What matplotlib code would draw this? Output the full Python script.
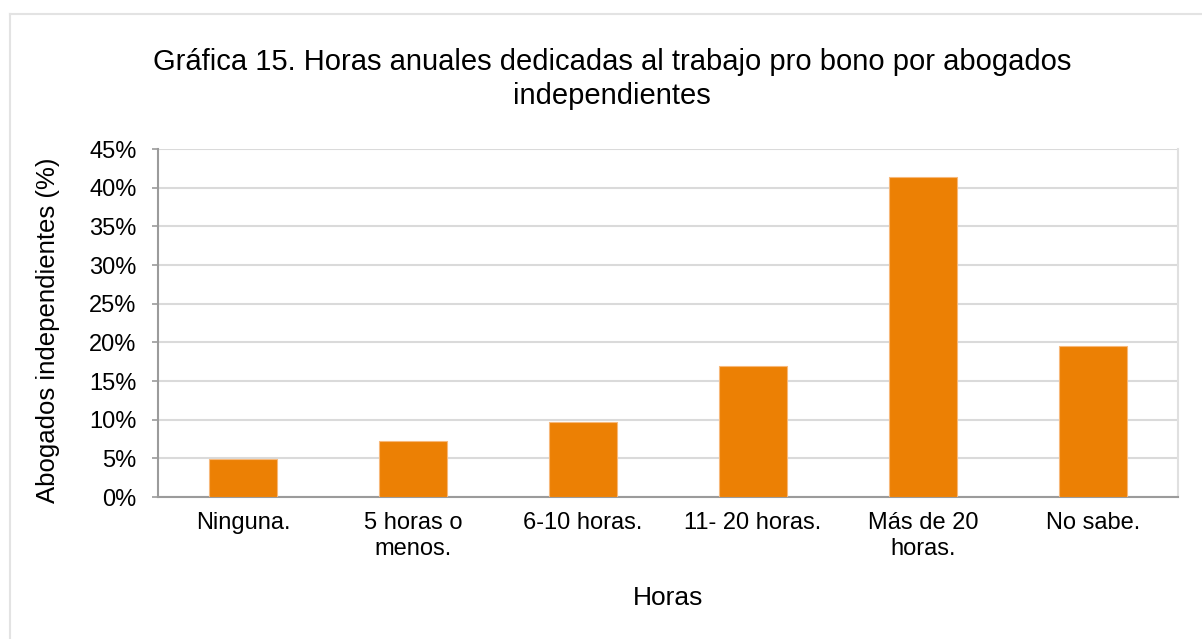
import matplotlib
matplotlib.use('Agg')
import matplotlib.pyplot as plt
from matplotlib.lines import Line2D
import numpy as np

plt.rcParams['font.family'] = ['Liberation Sans', 'DejaVu Sans']

categorias = ['Ninguna.', '5 horas o\nmenos.', '6-10 horas.', '11- 20 horas.', 'Más de 20\nhoras.', 'No sabe.']
porcentajes = [4.9, 7.3, 9.7, 17.0, 41.4, 19.5]
ticks_y = [0, 5, 10, 15, 20, 25, 30, 35, 40, 45]

naranja = '#EC8004'

fig = plt.figure(figsize=(12.02, 6.39), dpi=100)
ax = fig.add_axes([158 / 1202, 1 - 497 / 639, 1020 / 1202, 348 / 639])

x = np.arange(len(categorias))
ax.bar(x, porcentajes, width=0.4, color=naranja, edgecolor='#F7B87A', linewidth=0.8, zorder=3)

ax.set_xlim(-0.5, len(categorias) - 0.5)
ax.set_ylim(0, 45)
ax.set_yticks(ticks_y)
ax.set_yticklabels([f'{t}%' for t in ticks_y])
ax.set_xticks(x)
ax.set_xticklabels(categorias, linespacing=1.2)
ax.tick_params(axis='x', length=0, pad=11, labelsize=17)
ax.tick_params(axis='y', length=4.5, width=1.2, color='#9B9B9B', pad=11, labelsize=17)

ax.grid(axis='y', color='#DADADA', linewidth=1.5, zorder=0)
ax.set_axisbelow(True)
for s in ['left', 'bottom']:
    ax.spines[s].set_color('#9B9B9B')
    ax.spines[s].set_linewidth(1.5)
ax.spines['top'].set_visible(False)
ax.spines['right'].set_color('#E0E0E0')
ax.spines['right'].set_linewidth(1.5)

ax.set_ylabel('Abogados independientes (%)', fontsize=18.5, va='center')
ax.yaxis.set_label_coords(-0.108, 0.48)
ax.set_xlabel('Horas', fontsize=19, va='center')
ax.xaxis.set_label_coords(0.5, -0.29)

fig.text(612 / 1202, 1 - 79 / 639,
         'Gráfica 15. Horas anuales dedicadas al trabajo pro bono por abogados\nindependientes',
         ha='center', va='center', fontsize=21, linespacing=1.3)

# marco exterior
fig.add_artist(Line2D([10 / 1202, 10 / 1202], [0, 1 - 14 / 639], transform=fig.transFigure,
                      color='#E3E3E3', linewidth=1.5))
fig.add_artist(Line2D([10 / 1202, 1], [1 - 14 / 639, 1 - 14 / 639], transform=fig.transFigure,
                      color='#E3E3E3', linewidth=1.5))

fig.savefig('out.png', dpi=100)
